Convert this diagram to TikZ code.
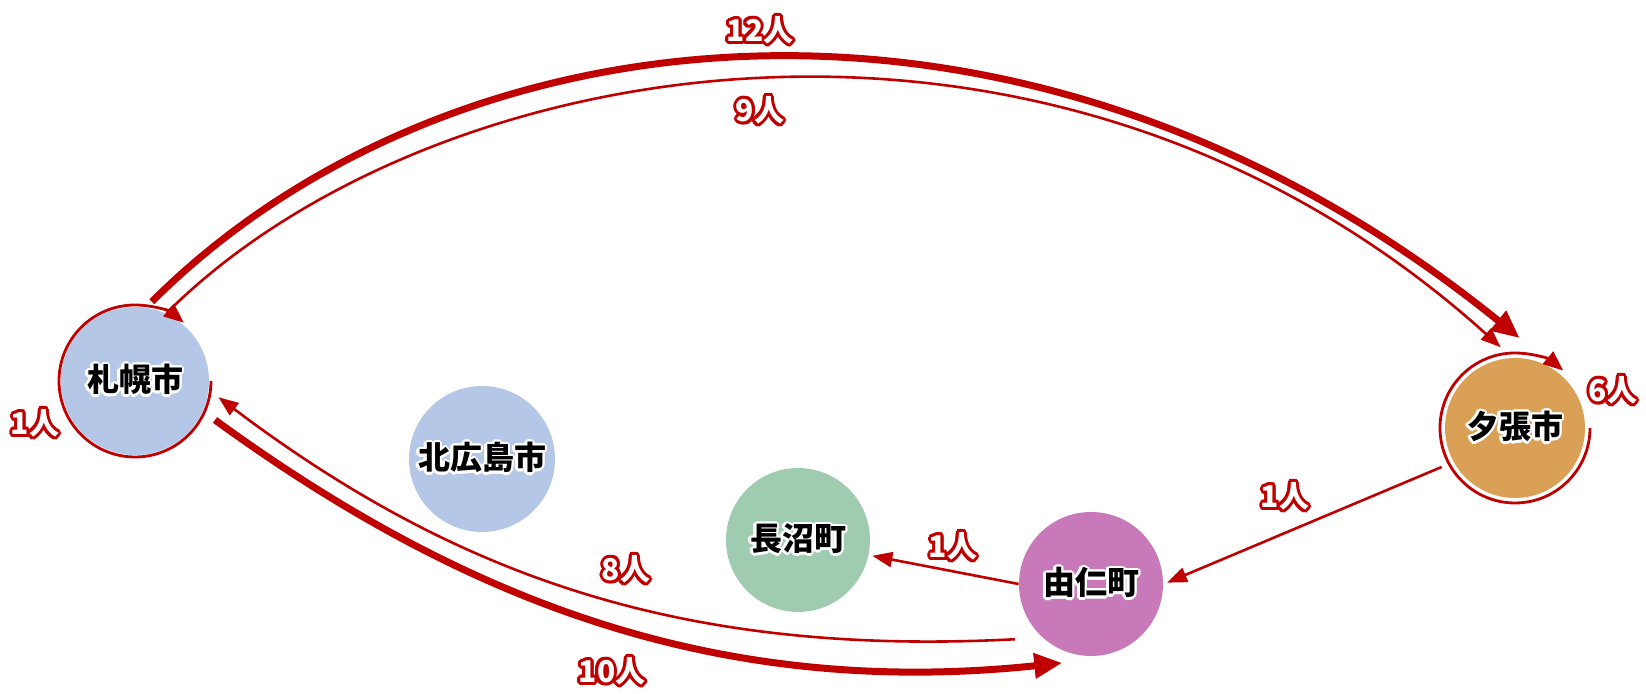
\documentclass[tikz,border=0pt]{standalone}
\usepackage{fontspec}
\newfontfamily\jp{Noto Sans CJK JP}
\usepackage{contour}
\usetikzlibrary{arrows.meta,calc}

\definecolor{flowred}{HTML}{C00000}
\definecolor{citybl}{HTML}{B4C7E7}
\definecolor{cityor}{HTML}{DAA055}
\definecolor{citygr}{HTML}{9FCCB0}
\definecolor{citypk}{HTML}{C879BA}

\newcommand{\cityname}[1]{{\contourlength{1.2pt}\contour{white}{#1}}}
\newcommand{\flowlabel}[1]{{\color{white}\contourlength{1.5pt}\contour{flowred}{#1}}}

\tikzset{
  city/.style={circle, inner sep=0pt, minimum size=#1, font=\jp\bfseries\fontsize{16pt}{16pt}\selectfont},
  lbl/.style={inner sep=0pt, font=\jp\bfseries\fontsize{15pt}{15pt}\selectfont},
  bigflow/.style={draw=flowred, line width=3.5pt, -{Triangle[length=14pt,width=12pt]}},
  smallflow/.style={draw=flowred, line width=1.3pt, -{Triangle[length=10pt,width=7.5pt]}},
  loopflow/.style={draw=flowred, line width=1.4pt, -{Triangle[length=10pt,width=8pt]}}
}

\begin{document}
\begin{tikzpicture}[x=0.5pt,y=0.5pt]
  \useasboundingbox (0,0) rectangle (1646,694);

  % cities
  \node[city=74pt, fill=citybl] (sap) at (135,313) {\cityname{札幌市}};
  \node[city=73pt, fill=citybl] (kit) at (482,235) {\cityname{北広島市}};
  \node[city=72pt, fill=citygr] (nag) at (798,154) {\cityname{長沼町}};
  \node[city=72pt, fill=citypk] (yun) at (1091,110) {\cityname{由仁町}};
  \node[city=70pt, fill=cityor] (yub) at (1515,266) {\cityname{夕張市}};

  % flows within a city
  \draw[loopflow] ($(sap)+(0:76)$) arc[start angle=0, end angle=-310, radius=76];
  \draw[loopflow] ($(yub)+(0:75)$) arc[start angle=0, end angle=-310, radius=75];

  % flows between cities
  \draw[bigflow] ($(sap)+(78:81)$) .. controls +(45:417) and +(141:641) .. ($(yub)+(87:90)$);
  \draw[smallflow] ($(sap)+(65:75)$) .. controls +(45:366) and +(138:612) .. ($(yub)+(100:82)$);
  \draw[bigflow] ($(sap)+(-26:89)$) .. controls +(-36:300) and +(186:352) .. ($(yun)+(250:84)$);
  \draw[smallflow] ($(yun)+(216:94)$) .. controls +(183:330) and +(-37:300) .. ($(sap)+(-11:85)$);
  \draw[smallflow] ($(yub)+(208:83)$) -- ($(yun)+(1:76)$);
  \draw[smallflow] (yun.west) -- ($(nag)+(-12:76)$);

  % labels
  \node[lbl] (l12) at (760,662) {\flowlabel{12人}};
  \node[lbl] (l9) at (760,582) {\flowlabel{9人}};
  \node[lbl] (l8) at (626,123) {\flowlabel{8人}};
  \node[lbl] (l10) at (612,21) {\flowlabel{10人}};
  \node[lbl] (l1s) at (35,269) {\flowlabel{1人}};
  \node[lbl] (l6) at (1613,302) {\flowlabel{6人}};
  \node[lbl] (l1y) at (1285,196) {\flowlabel{1人}};
  \node[lbl] (l1n) at (953,146) {\flowlabel{1人}};
\end{tikzpicture}
\end{document}
